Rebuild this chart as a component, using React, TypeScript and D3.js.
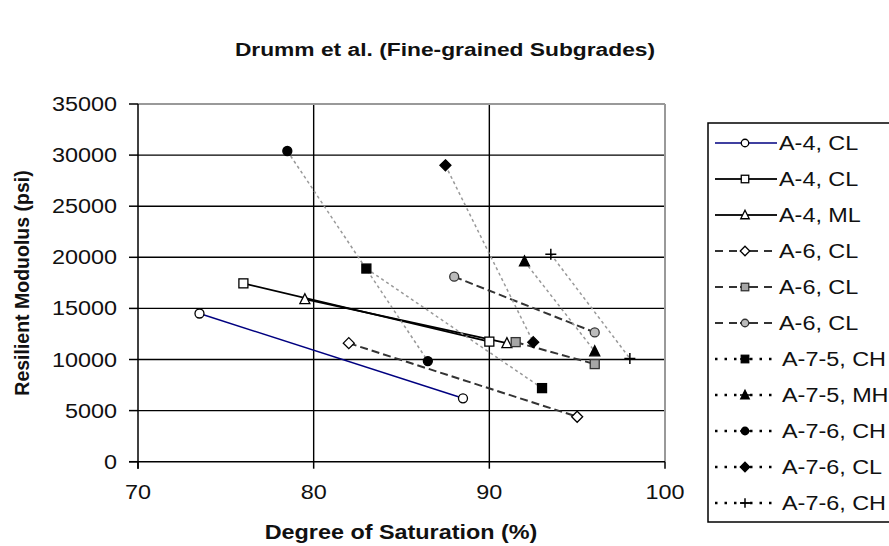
import React from "react";
import * as d3 from "d3";

const seriesNames = ["A-4, CL", "A-4, CL", "A-4, ML", "A-6, CL", "A-6, CL", "A-6, CL", "A-7-5, CH", "A-7-5, MH", "A-7-6, CH", "A-7-6, CL", "A-7-6, CH"];
const saturation = [[73.5, 88.5], [76, 90], [79.5, 91], [82, 95], [91.5, 96], [88, 96], [83, 93], [92, 96], [78.5, 86.5], [87.5, 92.5], [93.5, 98]];
const modulus = [[14500, 6200], [17450, 11750], [15900, 11600], [11600, 4400], [11700, 9550], [18100, 12650], [18900, 7200], [19600, 10800], [30400, 9850], [29000, 11700], [20300, 10100]];
const xTicks = [70, 80, 90, 100];
const yTicks = [0, 5000, 10000, 15000, 20000, 25000, 30000, 35000];

type Style = { stroke: string; width: number; dash: string | null; legendDash: string | null; marker: string; fill: string; mstroke: string };
const styles: Style[] = [
  { stroke: "#000080", width: 1.5, dash: null, legendDash: null, marker: "circle", fill: "#fff", mstroke: "#000" },
  { stroke: "#000", width: 1.8, dash: null, legendDash: null, marker: "square", fill: "#fff", mstroke: "#000" },
  { stroke: "#000", width: 1.8, dash: null, legendDash: null, marker: "triangle", fill: "#fff", mstroke: "#000" },
  { stroke: "#333", width: 2, dash: "8,4", legendDash: "8,6", marker: "diamond", fill: "#fff", mstroke: "#000" },
  { stroke: "#333", width: 2, dash: "8,4", legendDash: "8,6", marker: "square", fill: "#a6a6a6", mstroke: "#333" },
  { stroke: "#333", width: 2, dash: "8,4", legendDash: "8,6", marker: "circle", fill: "#bbb", mstroke: "#333" },
  { stroke: "#999", width: 1.5, dash: "3,3", legendDash: "2.5,7", marker: "square", fill: "#000", mstroke: "#000" },
  { stroke: "#999", width: 1.5, dash: "3,3", legendDash: "2.5,7", marker: "triangle", fill: "#000", mstroke: "#000" },
  { stroke: "#999", width: 1.5, dash: "3,3", legendDash: "2.5,7", marker: "circle", fill: "#000", mstroke: "#000" },
  { stroke: "#999", width: 1.5, dash: "3,3", legendDash: "2.5,7", marker: "diamond", fill: "#000", mstroke: "#000" },
  { stroke: "#999", width: 1.5, dash: "3,3", legendDash: "2.5,7", marker: "plus", fill: "#000", mstroke: "#000" },
];

const W = 889, H = 546;
const L = 138, R = 665, T = 104, B = 461.7;
const x = d3.scaleLinear().domain([70, 100]).range([L, R]);
const y = d3.scaleLinear().domain([0, 35000]).range([B, T]);
const FONT = "Arial, 'Liberation Sans', sans-serif";
const SX = 1.2;

function Txt({ x: tx, y: ty, anchor = "start", size = 19.5, bold = false, children }: any) {
  return (
    <text transform={`translate(${tx},${ty}) scale(${SX},1)`} textAnchor={anchor} fontFamily={FONT} fontSize={size} fontWeight={bold ? "bold" : "normal"} fill="#111">
      {children}
    </text>
  );
}

function Marker({ type, cx, cy, s, fill, stroke }: any) {
  const h = s / 2;
  const sw = 1.3;
  if (type === "circle") return <circle cx={cx} cy={cy} r={h} fill={fill} stroke={stroke} strokeWidth={sw} />;
  if (type === "square") return <rect x={cx - h} y={cy - h} width={s} height={s} fill={fill} stroke={stroke} strokeWidth={sw} />;
  if (type === "triangle") return <path d={`M${cx},${cy - h - 1}L${cx + h + 0.5},${cy + h}L${cx - h - 0.5},${cy + h}Z`} fill={fill} stroke={stroke} strokeWidth={sw} />;
  if (type === "diamond") { const d = h + 1; return <path d={`M${cx},${cy - d}L${cx + d},${cy}L${cx},${cy + d}L${cx - d},${cy}Z`} fill={fill} stroke={stroke} strokeWidth={sw} />; }
  return <path d={`M${cx - h - 1},${cy}H${cx + h + 1}M${cx},${cy - h - 1}V${cy + h + 1}`} stroke={stroke} strokeWidth={1.5} fill="none" />;
}

export default function App() {
  const line = d3.line<[number, number]>().x((d) => x(d[0])).y((d) => y(d[1]));
  const legX = 708, legTop = 123, legBottom = 522, row0 = 143, rowH = 36;
  return (
    <svg width={W} height={H} style={{ position: "absolute", left: 0, top: 0, background: "#fff" }}>
      <rect width={W} height={H} fill="#fff" />
      <Txt x={445} y={56} anchor="middle" size={19} bold>Drumm et al. (Fine-grained Subgrades)</Txt>
      {/* grid */}
      {yTicks.filter((v) => v > 0 && v < 35000).map((v) => (
        <line key={"h" + v} x1={L} x2={R} y1={y(v)} y2={y(v)} stroke="#000" strokeWidth={1.4} />
      ))}
      {xTicks.filter((v) => v > 70 && v < 100).map((v) => (
        <line key={"v" + v} x1={x(v)} x2={x(v)} y1={T} y2={B} stroke="#000" strokeWidth={1.4} />
      ))}
      <line x1={L} x2={R} y1={T} y2={T} stroke="#999" strokeWidth={2} />
      <line x1={R} x2={R} y1={T} y2={B} stroke="#999" strokeWidth={2} />
      {/* axes */}
      <line x1={L} x2={L} y1={T} y2={B + 7} stroke="#000" strokeWidth={1.5} />
      <line x1={L - 9} x2={R} y1={B} y2={B} stroke="#000" strokeWidth={1.5} />
      {yTicks.map((v) => (
        <g key={"yt" + v}>
          <line x1={L - 9} x2={L} y1={y(v)} y2={y(v)} stroke="#000" strokeWidth={1.5} />
          <Txt x={117} y={y(v) + 7} anchor="end">{d3.format("d")(v)}</Txt>
        </g>
      ))}
      {xTicks.map((v) => (
        <g key={"xt" + v}>
          <line x1={x(v)} x2={x(v)} y1={B} y2={B + 7} stroke="#000" strokeWidth={1.5} />
          <Txt x={x(v)} y={499} anchor="middle">{v}</Txt>
        </g>
      ))}
      <Txt x={401} y={539} anchor="middle" size={19.5} bold>Degree of Saturation (%)</Txt>
      <text transform={`translate(29,283) rotate(-90)`} textAnchor="middle" fontFamily={FONT} fontSize={19.5} fontWeight="bold" fill="#111">Resilient Moduolus (psi)</text>
      {/* series lines */}
      {seriesNames.map((n, i) => {
        const st = styles[i];
        const pts = saturation[i].map((s, j) => [s, modulus[i][j]] as [number, number]);
        return <path key={"l" + i} d={line(pts) || ""} fill="none" stroke={st.stroke} strokeWidth={st.width} strokeDasharray={st.dash || undefined} />;
      })}
      {seriesNames.map((n, i) => {
        const st = styles[i];
        return saturation[i].map((s, j) => (
          <Marker key={"m" + i + "-" + j} type={st.marker} cx={x(s)} cy={y(modulus[i][j])} s={9} fill={st.fill} stroke={st.mstroke} />
        ));
      })}
      {/* legend */}
      <rect x={legX} y={legTop} width={200} height={legBottom - legTop} fill="#fff" stroke="#000" strokeWidth={1.5} />
      {seriesNames.map((n, i) => {
        const st = styles[i];
        const cy = row0 + i * rowH;
        const dotted = st.dash === "3,3";
        const lstroke = dotted ? "#000" : st.stroke;
        return (
          <g key={"lg" + i}>
            <line x1={715} x2={740} y1={cy} y2={cy} stroke={lstroke} strokeWidth={dotted ? 2.5 : st.width} strokeDasharray={st.legendDash || undefined} />
            <line x1={750} x2={777} y1={cy} y2={cy} stroke={lstroke} strokeWidth={dotted ? 2.5 : st.width} strokeDasharray={st.legendDash || undefined} />
            <line x1={740} x2={750} y1={cy} y2={cy} stroke={lstroke} strokeWidth={st.width} />
            <Marker type={st.marker} cx={745} cy={cy} s={7.5} fill={st.fill} stroke={st.mstroke} />
            <Txt x={dotted ? 782 : 779} y={cy + 7}>{n}</Txt>
          </g>
        );
      })}
    </svg>
  );
}
